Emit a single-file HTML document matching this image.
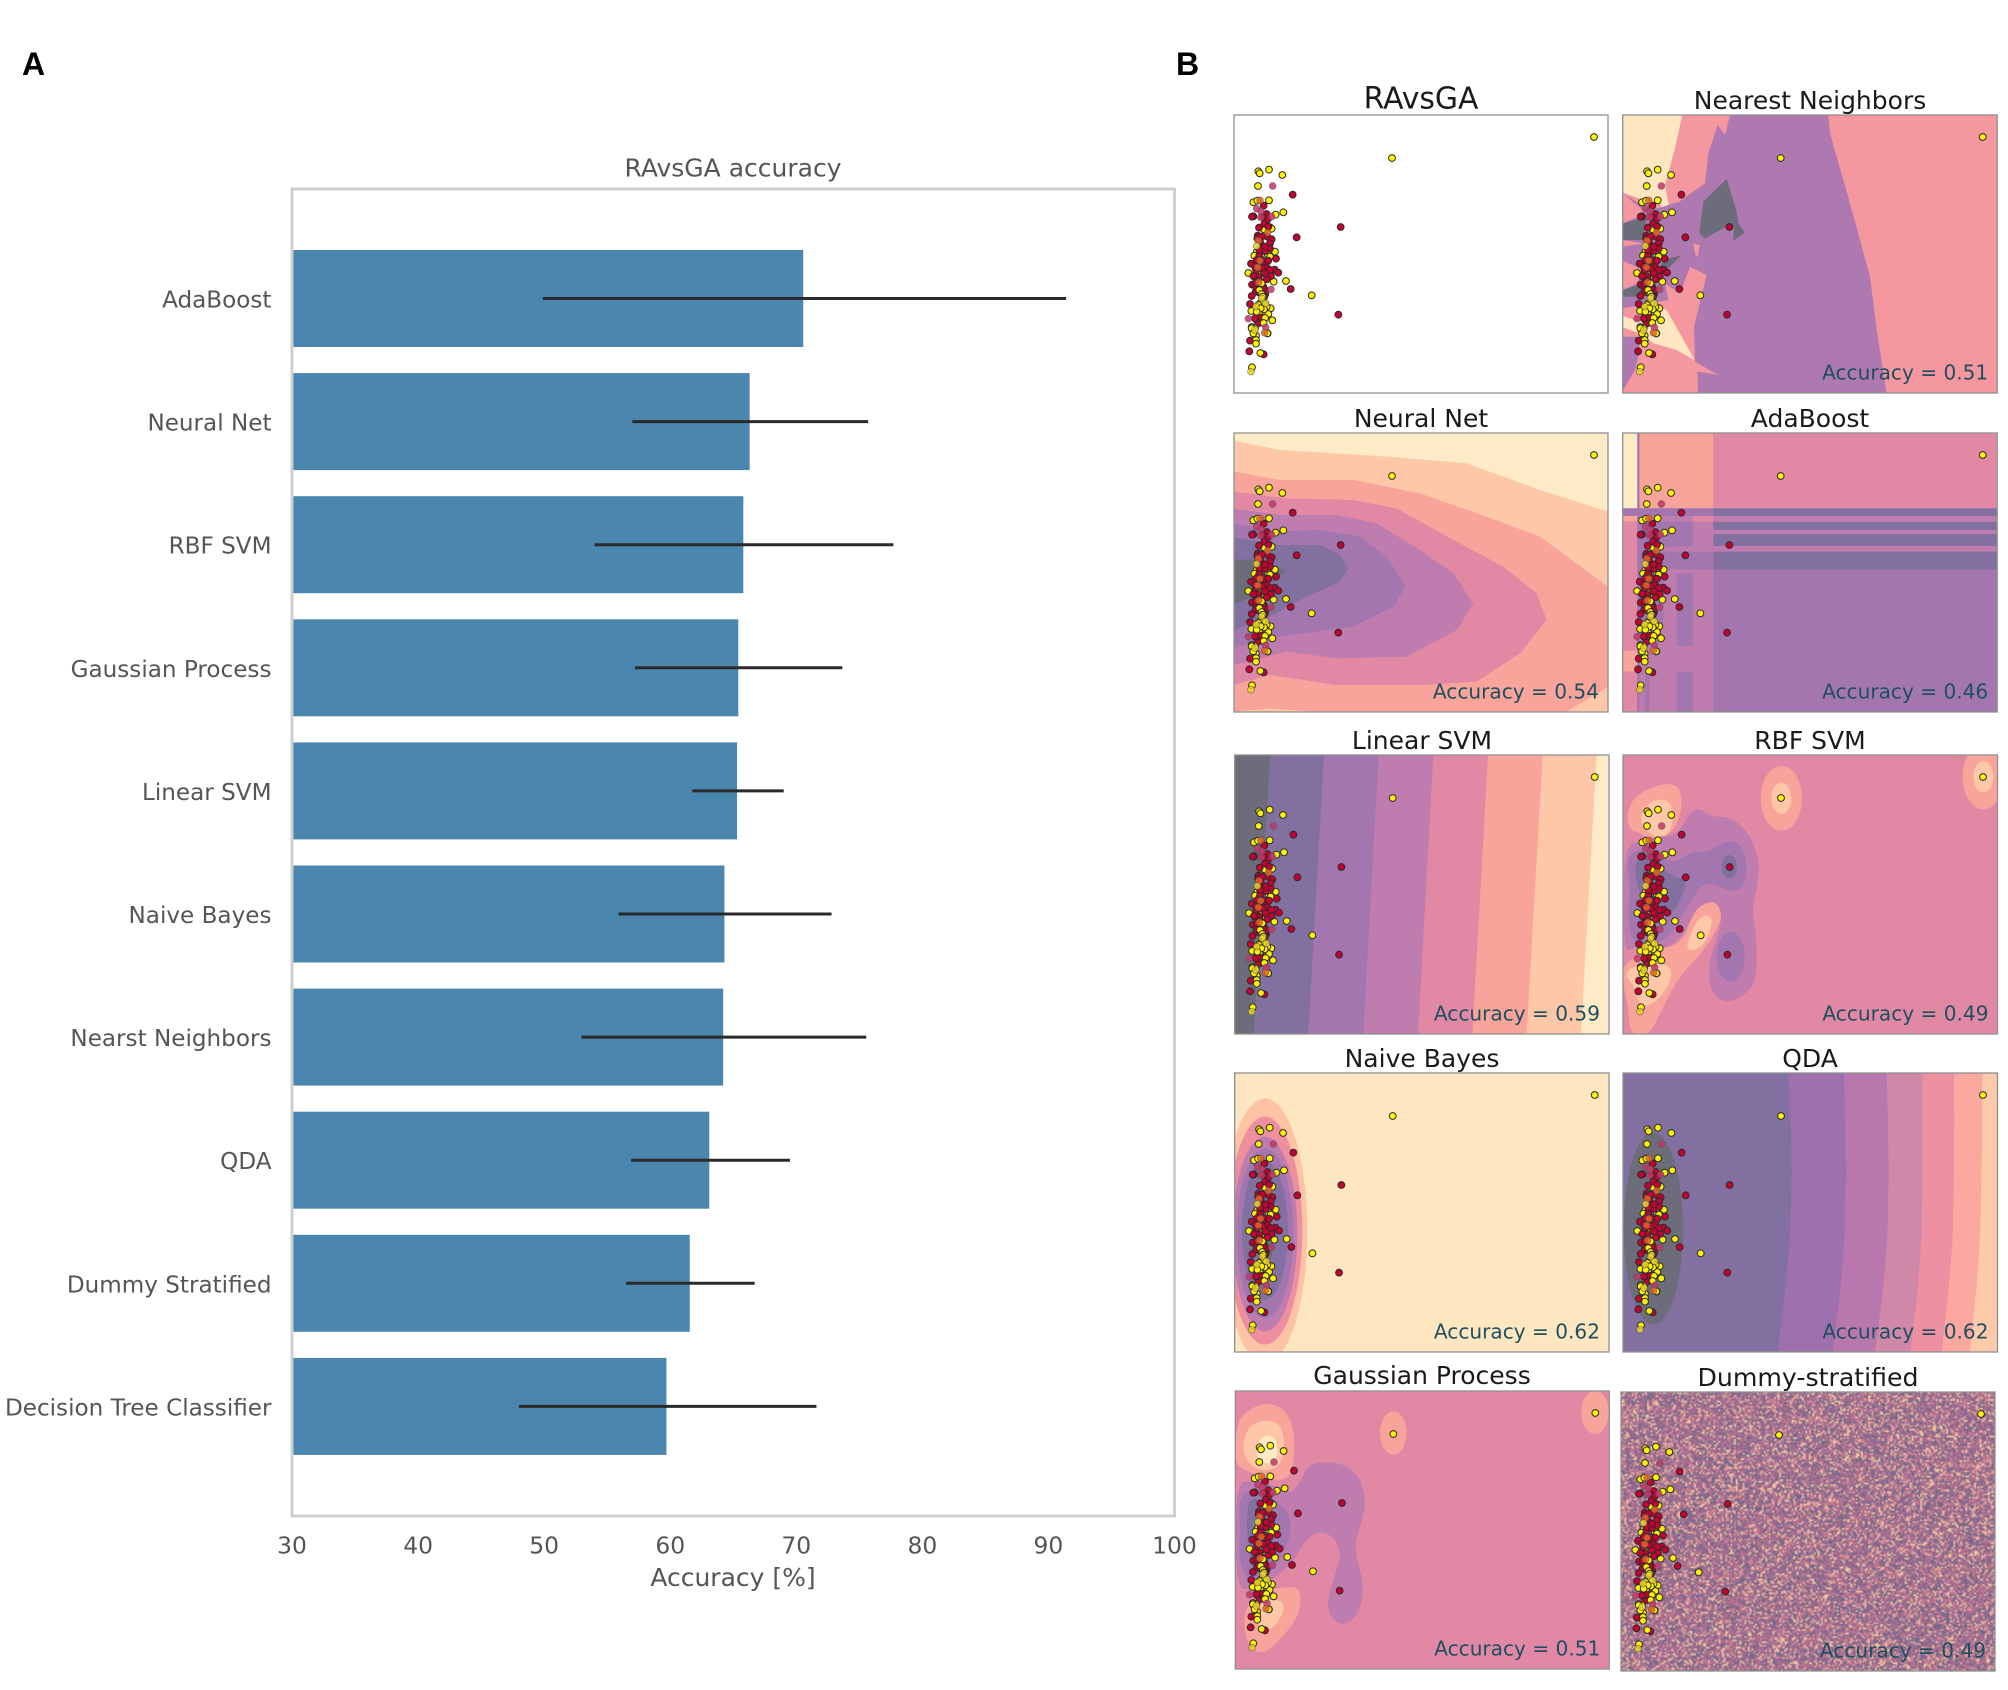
<!DOCTYPE html>
<html>
<head>
<meta charset="utf-8">
<title>RAvsGA classifier accuracy</title>
<style>
html,body{margin:0;padding:0;background:#fff;}
#stage{position:relative;width:2008px;height:1690px;overflow:hidden;background:#fff;}
#noise{position:absolute;left:1621px;top:1392px;width:374px;height:279px;}
#plot{position:absolute;left:0;top:0;}
text{font-family:"DejaVu Sans","Liberation Sans",sans-serif;}
</style>
</head>
<body>
<div id="stage">
<canvas id="noise" width="215" height="160"></canvas>
<svg id="plot" width="2008" height="1690" viewBox="0 0 2008 1690" xmlns="http://www.w3.org/2000/svg">
  <text x="22" y="75" style="font-family:'Liberation Sans',sans-serif;font-weight:bold;font-size:32px" fill="#000">A</text>
  <text x="1176" y="75" style="font-family:'Liberation Sans',sans-serif;font-weight:bold;font-size:32px" fill="#000">B</text>
  <text x="733" y="176.5" text-anchor="middle" font-size="25" fill="#555">RAvsGA accuracy</text>
  <text x="733" y="1586" text-anchor="middle" font-size="25" fill="#555">Accuracy [%]</text>
  <g id="bars"></g>
  <rect x="292" y="189" width="882.5" height="1327" fill="none" stroke="#cfcfcf" stroke-width="3"></rect>
  <g id="ticks"></g>
  <g id="panels"></g>
</svg>
</div>
<script>
/* ---------- Panel A data ---------- */
const categories = ["AdaBoost","Neural Net","RBF SVM","Gaussian Process","Linear SVM","Naive Bayes","Nearst Neighbors","QDA","Dummy Stratified","Decision Tree Classifier"];
const accuracy = [70.55,66.3,65.8,65.4,65.3,64.3,64.2,63.1,61.55,59.7];
const errLow = [49.9,57.0,54,57.2,61.75,55.9,52.95,56.9,56.5,48];
const errHigh = [91.4,75.7,77.7,73.65,69,72.8,75.55,69.5,66.7,71.6];
const xTicks = [30,40,50,60,70,80,90,100];

/* ---------- Panel B scatter data (feature space) ---------- */
const trainX = [1122,516,115,119,147,187,114,100,147,112,190,167,150,155,132,143,165,110,103,150,85,120,138,130,133,161,198,275,
  218,362,230,212,355,131,140,100,96,143,133,117,142,113,112,155,150,128,150,135,118,168,126,93,130,108,164,175,153,105,115,96,130,107,95,136,90,110,115,100,90,88,131,120,135,112,120,140,125,108,118,143,
  120,135,110,145,125,100,140,118,108,150,128,118,133,122,105,128,145,118,105,135,
  125,118,125,128,122,135,110,152,94,120,128,140,145,135,157,131,95,108,108,108,121,96,142,128,115,132,122,110,105,95,100];
const trainY = [201,264,304,310,299,315,348,397,391,392,427,434,472,476,478,553,545,546,557,560,609,607,603,612,628,635,633,676,
  374,471,502,657,734,407,432,439,440,448,461,473,500,497,505,508,520,528,536,543,557,566,570,581,585,600,599,608,618,622,620,644,650,665,678,672,702,750,760,785,812,844,853,640,660,738,575,592,500,650,745,790,
  515,530,570,572,595,618,628,632,640,600,655,668,680,740,745,440,470,540,590,610,
  640,660,672,680,698,700,712,715,723,724,715,710,732,744,751,759,771,797,810,821,849,892,790,700,705,718,715,725,775,775,790];
const trainClass = [1,1,1,1,1,1,1,1,1,1,1,1,1,1,1,1,1,1,1,1,1,1,1,1,1,1,1,1,
  0,0,0,0,0,0,0,0,0,0,0,0,0,0,0,0,0,0,0,0,0,0,0,0,0,0,0,0,0,0,0,0,0,0,0,0,0,0,0,0,0,0,0,0,0,0,0,0,0,0,0,0,
  0,0,0,0,0,0,0,0,0,0,0,0,0,0,0,0,0,0,0,0,
  1,1,1,1,1,1,1,1,1,1,1,1,1,1,1,1,1,1,1,1,1,1,1,1,1,1,1,1,1,1,1];
const testX = [158,110,123,122,155,153,85,137,120,115,120,113,116,134,143,110,108,105,125,137,93];
const testY = [348,416,424,442,440,658,746,772,391,512,572,592,637,788,488,528,710,780,685,700,905];
const testKind = [0,0,0,0,0,0,0,0,2,2,2,2,2,2,2,1,1,1,1,1,1];

/* ---------- Panel B titles and scores ---------- */
const panelTitles = ["RAvsGA","Nearest Neighbors","Neural Net","AdaBoost","Linear SVM","RBF SVM","Naive Bayes","QDA","Gaussian Process","Dummy-stratified"];
const panelScores = [null,0.51,0.54,0.46,0.59,0.49,0.62,0.62,0.51,0.49];

/* ---------- Decision region colours ---------- */
const L = ['#6C6C7A','#8270A0','#A476B0','#BF7CAE','#E188A5','#F9A49A','#FEC8A8','#FCEBC6'];

/* ---------- Decision regions (per panel) ---------- */
const regionsRAvsGA = [];
const regionsNearest = [
 ['r','#F4979E',[38,135,1162,970]],
 ['p','#FDE6C0',[38,135,217,135,195,235,165,345,190,478,165,480,150,400,100,390,38,368]],
 ['p','#FDE6C0',[38,738,90,755,130,705,170,720,215,800,255,872,200,840,130,820,90,790,38,772]],
 ['p','#FDE6C0',[70,525,100,520,100,560,85,560]],
 ['p','#AE78B0',[360,135,655,135,660,190,720,400,780,620,800,780,830,970,265,970,262,905,325,915,255,875,252,770,290,615,240,590,210,670,165,640,175,690,120,700,38,715,38,660,80,640,100,600,38,572,38,530,100,520,38,510,38,460,110,430,38,370,120,420,160,410,208,395,285,340,295,250,323,165,345,195]],
 ['p','#F4979E',[250,520,270,525,262,562,255,550]],
 ['p','#AE78B0',[38,800,80,800,90,840,75,900,38,962]],
 ['p',L[0],[350,327,380,425,385,460,405,488,370,512,372,470,358,465,285,505,268,490,280,395]],
 ['p',L[0],[38,460,110,440,100,510,38,510]],
 ['p',L[0],[160,570,215,555,170,600,135,620]],
 ['p',L[0],[38,660,100,640,95,680,38,680]]
];
const regionsNeural = [
 ['r',L[7],[42,98,1165,935]],
 ['p',L[6],[42,122,180,150,500,170,740,190,960,270,1165,335,1165,935,42,935]],
 ['p',L[5],[42,215,180,240,400,240,600,280,800,350,960,410,1165,560,1165,860,1040,935,280,935,150,925,42,935]],
 ['p',L[4],[42,275,200,295,400,300,530,325,700,420,850,500,950,580,980,660,900,760,770,845,600,855,350,855,150,825,42,855]],
 ['p',L[3],[42,325,180,345,350,345,470,370,600,450,700,520,760,610,710,690,560,770,350,775,200,755,42,795]],
 ['p',L[2],[42,370,170,395,300,390,420,410,500,470,557,560,520,620,400,680,250,700,130,715,42,745]],
 ['p',L[1],[42,412,180,435,300,435,360,465,385,505,360,545,250,595,150,650,42,690]],
 ['p',L[0],[42,478,110,480,200,510,140,560,100,590,42,612]]
];
const regionsAda = [
 ['r',L[2],[38,98,1162,935]],
 ['r',L[4],[310,98,1162,325]],
 ['r',L[7],[38,98,82,325]],
 ['r',L[5],[88,98,310,325]],
 ['r',L[1],[310,325,1162,348]],
 ['r',L[3],[310,348,1162,366]],
 ['r',L[1],[310,366,1162,390]],
 ['r',L[3],[310,390,1162,402]],
 ['r',L[1],[310,402,1162,438]],
 ['r',L[3],[310,438,1162,455]],
 ['r',L[1],[310,455,1162,508]],
 ['r',L[3],[88,365,310,935]],
 ['r',L[2],[88,325,310,348]],
 ['r',L[2],[38,325,82,348]],
 ['r',L[5],[38,348,82,365]],
 ['r',L[3],[82,348,248,365]],
 ['r',L[4],[248,348,310,365]],
 ['r',L[4],[38,365,82,752]],
 ['r',L[5],[38,752,82,815]],
 ['r',L[4],[38,815,82,935]],
 ['r',L[2],[88,365,248,440]],
 ['r',L[2],[88,440,160,670]],
 ['r',L[2],[160,455,310,508]],
 ['r',L[2],[200,520,248,738]],
 ['r',L[2],[200,815,248,935]],
 ['r',L[2],[105,815,118,935]],
 ['r',L[2],[82,98,88,935]]
];
const regionsLinear = [
 ['r',L[7],[44,105,1167,941]],
 ['p',L[6],[44,105,1130,105,1083,941,44,941]],
 ['p',L[5],[44,105,968,105,920,941,44,941]],
 ['p',L[4],[44,105,804,105,757,941,44,941]],
 ['p',L[3],[44,105,640,105,594,941,44,941]],
 ['p',L[2],[44,105,476,105,430,941,44,941]],
 ['p',L[1],[44,105,312,105,265,941,44,941]],
 ['p',L[0],[44,105,150,105,102,941,44,941]]
];
const regionsRBF = [
 ['r',L[4],[40,105,1163,941]],
 ['p',L[5],[50,290,70,230,140,195,200,190,218,240,205,310,170,350,120,365,95,340,60,330],1],
 ['p',L[6],[85,300,115,245,170,235,190,270,185,330,150,358,120,340],1],
 ['e',L[5],[514,235,62,97]],
 ['e',L[6],[514,235,30,47]],
 ['e',L[5],[1120,170,62,98]],
 ['e',L[6],[1120,170,30,47]],
 ['p',L[5],[40,725,130,690,190,680,225,650,250,570,310,540,335,560,335,600,290,680,240,735,195,790,150,880,120,945,60,945,55,860,40,800],1],
 ['p',L[6],[60,740,150,725,190,750,170,810,120,860,85,850,75,800,45,770],1],
 ['p',L[6],[265,590,305,585,305,620,280,680,235,695,230,670],1],
 ['p',L[3],[40,375,100,365,135,350,205,345,240,275,270,265,300,290,360,290,420,340,450,430,440,510,425,570,440,650,440,780,400,830,340,850,300,810,295,730,330,630,335,570,310,540,260,560,225,640,180,680,120,690,70,680,40,700],1],
 ['p',L[2],[50,410,90,385,160,410,190,430,255,390,290,400,340,365,385,365,410,410,410,490,370,520,320,495,280,490,250,530,200,620,160,665,100,680,65,660,55,600,60,500],1],
 ['e',L[2],[362,710,42,75]],
 ['p',L[1],[75,430,100,400,150,440,190,470,232,480,215,530,190,580,140,590,110,590,90,520,75,470],1],
 ['e',L[1],[358,440,23,35]]
];
const regionsNaive = [
 ['r','#FDE6C0',[44,98,1167,935]],
 ['e','#FDC3A4',[135,572,127,397]],
 ['e','#EE8FA0',[135,572,112,342]],
 ['e',L[3],[135,582,97,292]],
 ['e',L[2],[135,580,85,255]],
 ['e',L[1],[135,572,69,208]],
 ['e',L[0],[135,610,25,60]]
];
const regionsQDA = [
 ['r',L[1],[40,98,1163,935]],
 ['p','#9E70AE',[535,98,1163,98,1163,935,503,935,525,760,540,600,545,400,542,240]],
 ['p','#B878AE',[702,98,1163,98,1163,935,668,935,690,760,703,600,708,400,706,240]],
 ['p','#D088A8',[830,98,1163,98,1163,935,795,935,818,760,832,600,836,400,834,240]],
 ['p','#EC90A2',[937,98,1163,98,1163,935,902,935,922,760,934,600,938,400,938,240]],
 ['p','#FBA9A0',[1032,98,1163,98,1163,935,995,935,1015,760,1028,600,1032,400,1033,240]],
 ['p','#FDCBAA',[1117,98,1163,98,1163,935,1080,935,1098,760,1110,600,1115,400,1117,240]],
 ['e',L[0],[130,566,89,288]]
];
const regionsGaussian = [
 ['r',L[4],[46,92,1168,927]],
 ['p',L[5],[46,230,60,170,110,135,160,130,205,160,225,230,220,320,200,360,140,358,100,340,60,325,46,300],1],
 ['p',L[6],[70,240,90,195,140,178,185,195,195,260,180,320,130,335,90,315,70,280],1],
 ['p',L[7],[105,265,125,230,160,225,175,270,165,310,120,310],1],
 ['e',L[5],[520,219,40,65]],
 ['e',L[5],[1125,157,41,65]],
 ['p',L[5],[80,740,120,695,200,680,243,685,240,760,190,830,130,885,85,860,70,790],1],
 ['p',L[6],[130,720,190,720,192,760,150,815,115,800,105,760],1],
 ['p',L[3],[46,370,100,360,190,385,205,400,235,380,260,320,300,305,370,310,420,350,438,420,425,490,400,560,432,670,420,760,370,800,330,770,320,720,360,600,360,570,340,530,300,512,255,540,225,600,170,650,110,680,46,695],1],
 ['p',L[2],[55,420,90,385,140,400,190,440,218,490,200,560,160,630,110,670,80,660,55,590,62,500],1],
 ['p',L[1],[80,440,100,410,150,430,170,480,160,560,130,640,100,640,82,560],1]
];
const regionsDummy = [];

/* ---------- Panel B layout ---------- */
const panelFrames = [
 {x:1234,y:115,w:374,h:278,cx:1220,cy:70,regions:regionsRAvsGA,base:108.5,size:29.8,tc:1421},
 {x:1622.7,y:115,w:374.5,h:278,cx:1610,cy:70,regions:regionsNearest,base:109,size:25,tc:1810},
 {x:1234,y:433,w:374,h:279,cx:1220,cy:400,regions:regionsNeural,base:427,size:25,tc:1421},
 {x:1622.7,y:433,w:374.5,h:279,cx:1610,cy:400,regions:regionsAda,base:427,size:25,tc:1810},
 {x:1234.7,y:755,w:374.3,h:279,cx:1220,cy:720,regions:regionsLinear,base:749,size:25,tc:1422},
 {x:1623,y:755,w:374.5,h:279,cx:1610,cy:720,regions:regionsRBF,base:749,size:25,tc:1810},
 {x:1234.7,y:1073,w:374.3,h:279,cx:1220,cy:1040,regions:regionsNaive,base:1067,size:25,tc:1422},
 {x:1623,y:1073,w:374.5,h:279,cx:1610,cy:1040,regions:regionsQDA,base:1067,size:25,tc:1810},
 {x:1235.3,y:1391,w:374,h:278,cx:1220,cy:1360,regions:regionsGaussian,base:1384,size:25,tc:1422},
 {x:1621,y:1392,w:374,h:279,cx:1610,cy:1360,regions:regionsDummy,base:1386,size:25.2,tc:1808}
];

const NS = 'http://www.w3.org/2000/svg';
function mk(tag, parent, attrs){
  const el = document.createElementNS(NS, tag);
  for (const k in attrs) el.setAttribute(k, attrs[k]);
  parent.appendChild(el);
  return el;
}

/* ---------- Panel A axes ---------- */
const xScale = v => 292 + (v - 30) * (882.5 / 70);
const yBand = i => 298.5 + 123.1 * i;
const barH = 97;

const barsG = document.getElementById('bars');
categories.forEach((name, i) => {
  const bar = mk('rect', barsG, {x:293, y:yBand(i)-barH/2, width:xScale(accuracy[i])-293, height:barH, fill:'#4A86AD'});
  
  
  const err = mk('line', barsG, {x1:xScale(errLow[i]), x2:xScale(errHigh[i]), y1:yBand(i), y2:yBand(i), stroke:'#2a2a2a', 'stroke-width':3});
  
  
  const lab = mk('text', barsG, {x:271.5, y:yBand(i)+9, 'text-anchor':'end', 'font-size':23.1, fill:'#555'});
  lab.textContent = name;
  
  
});

const ticksG = document.getElementById('ticks');
xTicks.forEach(t => {
  const tick = mk('text', ticksG, {x:xScale(t), y:1553.5, 'text-anchor':'middle', 'font-size':23.4, fill:'#555'});
  tick.textContent = t;
  
  
});

/* ---------- Panel B drawing ---------- */
function pathFrom(pts, smooth){
  const P = [];
  for (let i = 0; i < pts.length; i += 2) P.push([pts[i], pts[i+1]]);
  if (!smooth) return 'M' + P.map(p => p.join(' ')).join('L') + 'Z';
  const n = P.length;
  const mid = (a, b) => [(a[0]+b[0])/2, (a[1]+b[1])/2];
  const s = mid(P[n-1], P[0]);
  let d = 'M' + s[0] + ' ' + s[1];
  for (let i = 0; i < n; i++) {
    const m = mid(P[i], P[(i+1)%n]);
    d += 'Q' + P[i][0] + ' ' + P[i][1] + ' ' + m[0] + ' ' + m[1];
  }
  return d + 'Z';
}

const panelsG = document.getElementById('panels');
panelFrames.forEach((f, idx) => {
  const g = mk('g', panelsG, {});
  
  

  const clip = mk('clipPath', g, {id:'clip'+idx});
  mk('rect', clip, {x:f.x, y:f.y, width:f.w, height:f.h});

  const clipWrap = mk('g', g, {'clip-path':'url(#clip'+idx+')'});
  const regionG = mk('g', clipWrap, {transform:'translate('+f.cx+' '+f.cy+') scale('+(1/3)+')'});
  
  

  f.regions.forEach(r => {
    const kind = r[0], col = r[1], c = r[2];
    let el;
    if (kind === 'r') el = mk('rect', regionG, {x:c[0], y:c[1], width:c[2]-c[0], height:c[3]-c[1], fill:col});
    else if (kind === 'e') el = mk('ellipse', regionG, {cx:c[0], cy:c[1], rx:c[2], ry:c[3], fill:col});
    else el = mk('path', regionG, {d:pathFrom(c, r[3]), fill:col});
    
    
  });

  const ptX = v => f.x + (v - 42) / 3;
  const ptY = v => f.y + (v - 135) / 3;
  const dotsG = mk('g', clipWrap, {});
  
  
  trainX.forEach((v, i) => {
    const dot = mk('circle', dotsG, {cx:ptX(v), cy:ptY(trainY[i]), r:3.4, fill:trainClass[i] ? '#FFF200' : '#C6002F', stroke:'#2b2b2b', 'stroke-width':1});
    
    
  });
  const testFill = ['#C8346A','#E8D020','#E8641E'];
  testX.forEach((v, i) => {
    const dot = mk('circle', dotsG, {cx:ptX(v), cy:ptY(testY[i]), r:3.4, fill:testFill[testKind[i]], stroke:'#555', 'stroke-width':0.6, opacity:0.85});
    
    
  });

  const frame = mk('rect', g, {x:f.x, y:f.y, width:f.w, height:f.h, fill:'none', stroke:'#8f8f8f', 'stroke-width':1.3});
  
  

  const title = mk('text', g, {x:f.tc, y:f.base, 'text-anchor':'middle', 'font-size':f.size, fill:'#1a1a1a'});
  title.textContent = panelTitles[idx];
  
  

  if (panelScores[idx] !== null) {
    const acc = mk('text', g, {x:f.x+f.w-9, y:f.y+f.h-13.5, 'text-anchor':'end', 'font-size':20.1, fill:'#1E4F60'});
    acc.textContent = 'Accuracy = ' + panelScores[idx].toFixed(2);
    
    
  }
});

/* ---------- Dummy-stratified texture (decorative background only) ---------- */
(function(){
  const cv = document.getElementById('noise');
  const ctx = cv.getContext('2d');
  const tones = ['#6F6A8C','#8A6A90','#A86C90','#C07690','#DC9A98','#F2C8A0'];
  const weights = [0.18,0.17,0.22,0.2,0.11,0.12];
  let s = 12345;
  const rnd = () => (s = (s * 16807) % 2147483647) / 2147483647;
  for (let y = 0; y < cv.height; y++) {
    for (let x = 0; x < cv.width; x++) {
      let r = rnd(), k = 0;
      while (k < tones.length - 1 && r > weights[k]) { r -= weights[k]; k++; }
      ctx.fillStyle = tones[k];
      ctx.fillRect(x, y, 1, 1);
    }
  }
})();
</script>
</body>
</html>
